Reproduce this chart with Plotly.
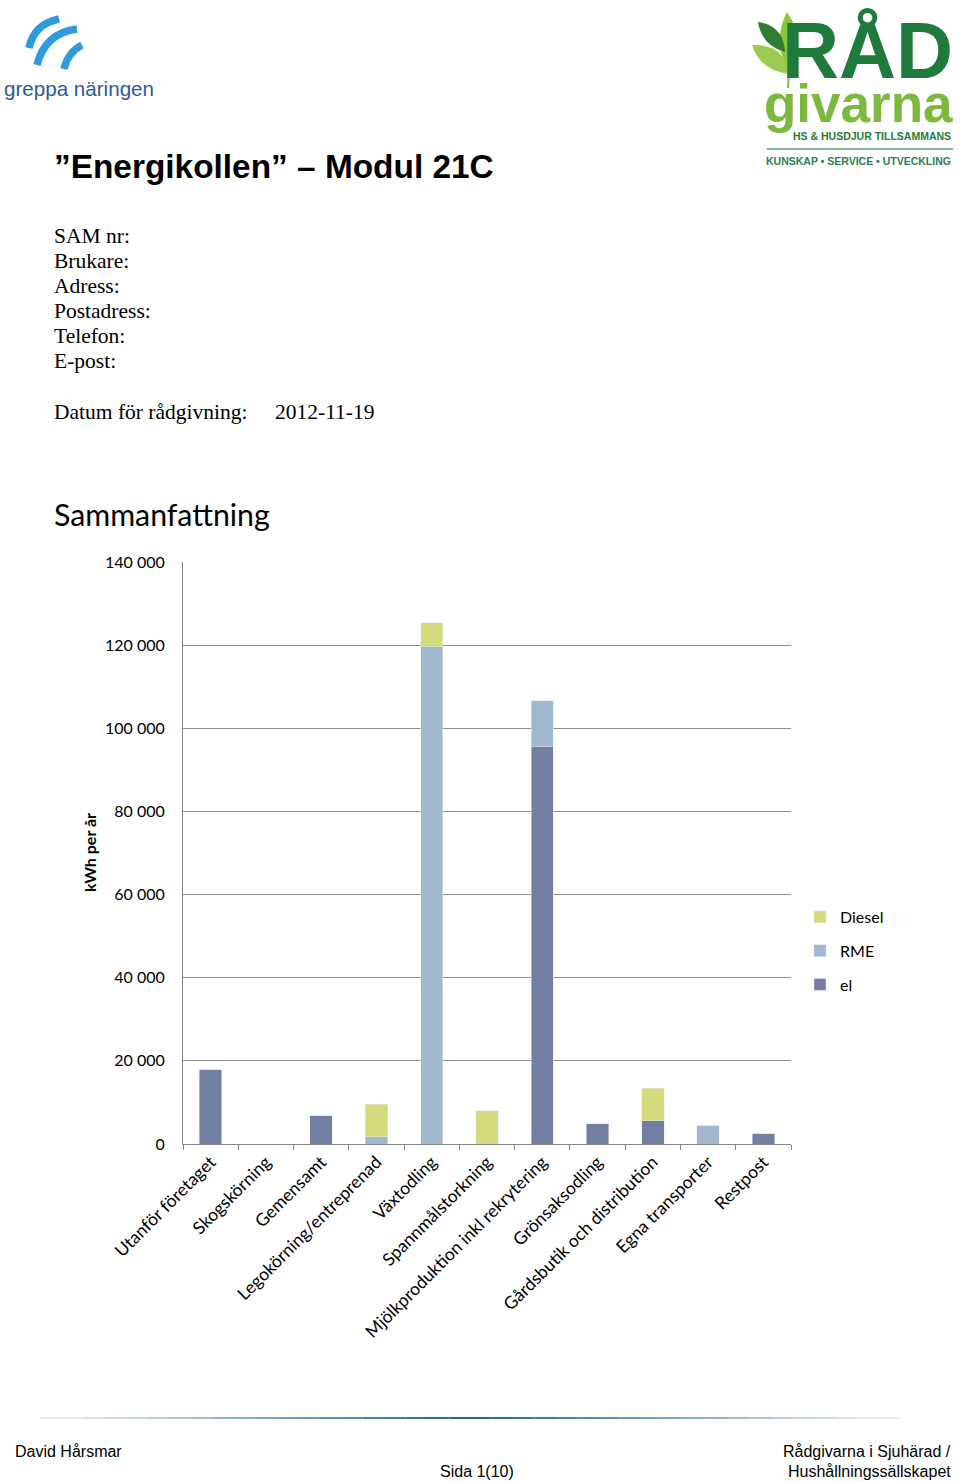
import plotly.graph_objects as go

# Data (kWh per år)
categories = ["Utanför företaget", "Skogskörning", "Gemensamt", "Legokörning/entreprenad",
              "Växtodling", "Spannmålstorkning", "Mjölkproduktion inkl rekrytering",
              "Grönsaksodling", "Gårdsbutik och distribution", "Egna transporter", "Restpost"]
el = [18000, 0, 6900, 0, 0, 0, 95700, 5050, 5600, 0, 2480]
rme = [0, 0, 0, 1700, 119600, 0, 10900, 0, 0, 4500, 0]
diesel = [0, 0, 0, 7850, 5800, 7950, 0, 0, 7870, 0, 0]
y_ticks = [0, 20000, 40000, 60000, 80000, 100000, 120000, 140000]

form_fields = ["SAM nr:", "Brukare:", "Adress:", "Postadress:", "Telefon:", "E-post:"]

# plot area in page pixels
PL, PR, PT, PB = 183, 791, 562, 1144
W, H = 960, 1482


def px(x):
    return (x - PL) / (PR - PL)


def py(y):
    return (PB - y) / (PB - PT)


def svg(cmds, close=True):
    # cmds: list of (letter, [x, y, ...]) in page pixels -> path in paper coords
    d = ""
    for c, pts in cmds:
        d += c
        for i in range(0, len(pts), 2):
            d += " %.5f,%.5f" % (px(pts[i]), py(pts[i + 1]))
        d += " "
    return d + ("Z" if close else "")


def text(fig, s, x, y, size, color="#000", family="Liberation Sans", xanchor="left", bold=False):
    if bold:
        s = "<b>" + s + "</b>"
    fig.add_annotation(text=s, x=px(x), y=py(y), xref="paper", yref="paper",
                       xanchor=xanchor, yanchor="middle", showarrow=False,
                       font=dict(size=size, color=color, family=family))


fig = go.Figure()

fig.add_trace(go.Bar(x=categories, y=el, name="el", marker_color="#737EA3",
                     legendgroup="el", legendrank=3))
fig.add_trace(go.Bar(x=categories, y=rme, name="RME", marker_color="#A2B8CF",
                     legendgroup="rme", legendrank=2))
fig.add_trace(go.Bar(x=categories, y=diesel, name="Diesel", marker_color="#D4DB7A",
                     legendgroup="diesel", legendrank=1))

fig.update_layout(
    width=W, height=H,
    barmode="stack",
    bargap=0.595,
    separators=", ",
    plot_bgcolor="white",
    paper_bgcolor="white",
    margin=dict(l=PL, r=W - PR, t=PT, b=H - PB, autoexpand=False),
    font=dict(family="Lato", size=16, color="#000"),
    legend=dict(x=px(800), y=py(900), xanchor="left", yanchor="top",
                traceorder="grouped", tracegroupgap=10,
                font=dict(size=16, family="Lato", color="#000")),
    xaxis=dict(tickangle=-45, ticks="outside", tickson="boundaries", ticklen=5,
               tickcolor="#868686", showline=True, linecolor="#868686", linewidth=1,
               showgrid=False, tickfont=dict(size=17.5, family="Lato")),
    yaxis=dict(range=[0, 140000], tickvals=y_ticks, tickformat=",d",
               showgrid=True, gridcolor="#8C8C8C", gridwidth=1,
               showline=True, linecolor="#868686", linewidth=1,
               zeroline=False, ticks="", ticklabelstandoff=14,
               tickfont=dict(size=16, family="Lato")),
)

# y axis title
fig.add_annotation(text="<b>kWh per år</b>", x=px(89), y=py(853), xref="paper", yref="paper",
                   textangle=-90, showarrow=False, xanchor="center", yanchor="middle",
                   font=dict(size=16, family="Lato", color="#000"))

# page header texts
text(fig, "”Energikollen” – Modul 21C", 52, 166, 33.4, bold=True)
for i, f in enumerate(form_fields):
    text(fig, f, 52, 236 + 25 * i, 21.5, family="Liberation Serif")
text(fig, "Datum för rådgivning:", 52, 412, 21.5, family="Liberation Serif")
text(fig, "2012-11-19", 273, 412, 21.5, family="Liberation Serif")
text(fig, "Sammanfattning", 52, 514, 30.3, family="Lato")

# greppa näringen logo
blue = "#2F9BDA"
arcs = [
    [("M", [29, 48]), ("Q", [34, 24, 59, 19])],
    [("M", [37, 65]), ("Q", [45, 33, 77, 29])],
    [("M", [64, 69]), ("Q", [68, 52, 82, 45])],
]
for a in arcs:
    fig.add_shape(type="path", path=svg(a, close=False), xref="paper", yref="paper",
                  line=dict(color=blue, width=7.5))
text(fig, "greppa näringen", 2, 88, 20.6, color="#2C5B9B")

# Rådgivarna logo
light = "#7DB83F"
dark = "#1F7B3C"
fig.add_shape(type="path", path=svg([("M", [788, 88]), ("Q", [790, 70, 786, 55])], close=False),
              xref="paper", yref="paper", line=dict(color="#7DB83F", width=2))
leaves = [
    ("#8CC63F", [("M", [788, 72]), ("Q", [772, 40, 787, 12]), ("Q", [808, 42, 788, 72])]),
    ("#2E7D32", [("M", [758, 22]), ("Q", [784, 26, 785, 52]), ("Q", [762, 46, 758, 22])]),
    ("#9BCB4E", [("M", [752, 45]), ("Q", [786, 44, 788, 74]), ("Q", [760, 70, 752, 45])]),
]
for col, cmds in leaves:
    fig.add_shape(type="path", path=svg(cmds), xref="paper", yref="paper",
                  fillcolor=col, line=dict(width=0))
text(fig, "RÅD", 955, 50, 79, color=dark, xanchor="right", bold=True)
text(fig, "givarna", 955, 104, 53, color=light, xanchor="right", bold=True)
text(fig, "HS & HUSDJUR TILLSAMMANS", 953, 136, 10.5, color=dark, xanchor="right", bold=True)
fig.add_shape(type="line", x0=px(767), x1=px(953), y0=py(149), y1=py(149),
              xref="paper", yref="paper", line=dict(color="#5E9C6E", width=1.5))
text(fig, "KUNSKAP • SERVICE • UTVECKLING", 953, 161, 10.5, color="#2E7D4F", xanchor="right", bold=True)

# footer rule with fading ends
n = 40
for i in range(n):
    x0 = 40 + (900 - 40) * i / n
    x1 = 40 + (900 - 40) * (i + 1) / n
    xc = (x0 + x1) / 2
    alpha = max(0.08, 1 - abs(xc - 470) / 440) ** 0.9
    fig.add_shape(type="line", x0=px(x0), x1=px(x1), y0=py(1418), y1=py(1418),
                  xref="paper", yref="paper",
                  line=dict(color="rgba(30,100,140,%.3f)" % alpha, width=2))

text(fig, "David Hårsmar", 13, 1451, 16)
text(fig, "Sida 1(10)", 477, 1471, 16, xanchor="center")
text(fig, "Rådgivarna i Sjuhärad /", 953, 1451, 16, xanchor="right")
text(fig, "Hushållningssällskapet", 953, 1471, 16, xanchor="right")

fig.write_html("out.html", config={"displayModeBar": False},
               post_script="document.body.style.margin='0';")
